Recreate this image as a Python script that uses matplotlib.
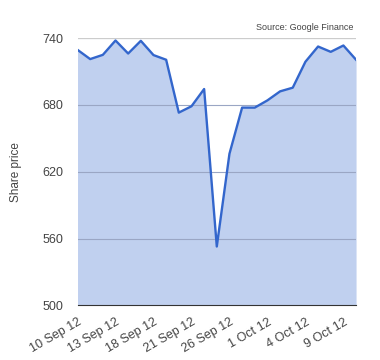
import matplotlib
matplotlib.use("Agg")
import matplotlib.pyplot as plt

# trading days 10 Sep 2012 .. 10 Oct 2012
days = list(range(23))
prices = [729.5, 721.2, 725.0, 737.9, 726.2, 737.6, 724.8, 720.6, 673.1, 678.8,
          694.3, 552.8, 636.1, 677.6, 677.6, 684.1, 692.2, 695.5, 718.8, 732.5,
          727.7, 733.4, 720.6]
tick_idx = [0, 3, 6, 9, 12, 15, 18, 21]
tick_labels = ["10 Sep 12", "13 Sep 12", "18 Sep 12", "21 Sep 12",
               "26 Sep 12", "1 Oct 12", "4 Oct 12", "9 Oct 12"]
yticks = [500, 560, 620, 680, 740]

plt.rcParams["font.family"] = ["Liberation Sans", "DejaVu Sans"]

fig = plt.figure(figsize=(3.8, 3.6), dpi=100)
ax = fig.add_axes([0.204, 0.152, 0.733, 0.742])

ax.fill_between(days, prices, 500, color="#c0d0ef", lw=0, zorder=1)
ax.plot(days, prices, color="#3366cc", lw=1.7, zorder=3)

ax.set_xlim(0, 22)
ax.set_ylim(500, 740)
ax.set_yticks(yticks)
ax.set_xticks(tick_idx)
ax.set_xticklabels(tick_labels, rotation=30, ha="right", rotation_mode="anchor")
ax.tick_params(length=0, labelsize=9, labelcolor="#444444")
ax.tick_params(axis="y", pad=10)
ax.tick_params(axis="x", pad=8)

for y in yticks[1:]:
    ax.axhline(y, color="#9aa6c4", lw=0.8, zorder=2)
ax.axhline(740, color="#cccccc", lw=0.8, zorder=2)

for s in ["top", "right", "left"]:
    ax.spines[s].set_visible(False)
ax.spines["bottom"].set_color("#333333")
ax.spines["bottom"].set_zorder(4)

ax.set_ylabel("Share price", fontsize=8.5, color="#444444", labelpad=15)
fig.text(0.929, 0.923, "Source: Google Finance", fontsize=6.5, color="#444444",
         ha="right", va="center")

fig.savefig("out.png", dpi=100)
